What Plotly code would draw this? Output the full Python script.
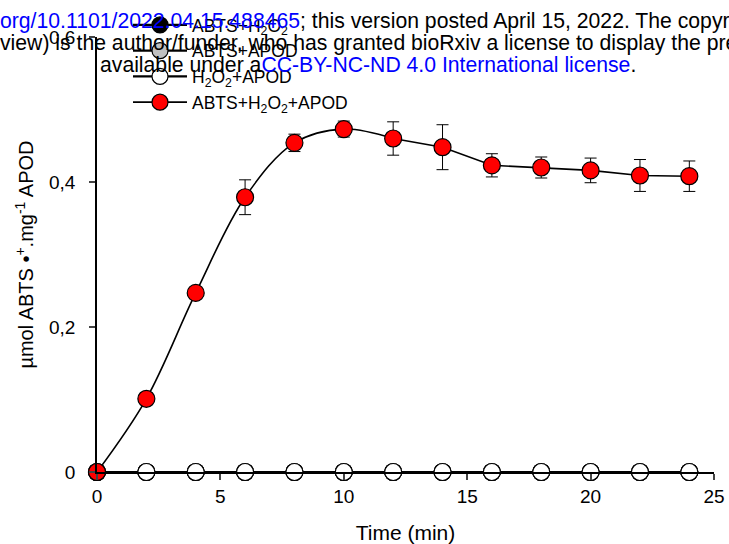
import plotly.graph_objects as go

# ---- data ----
time_min = [0, 2, 4, 6, 8, 10, 12, 14, 16, 18, 20, 22, 24]
abts_h2o2 = [0, 0, 0, 0, 0, 0, 0, 0, 0, 0, 0, 0, 0]
abts_apod = [0, 0, 0, 0, 0, 0, 0, 0, 0, 0, 0, 0, 0]
h2o2_apod = [0, 0, 0, 0, 0, 0, 0, 0, 0, 0, 0, 0, 0]
abts_h2o2_apod = [0, 0.101, 0.247, 0.379, 0.454, 0.473, 0.460, 0.448, 0.423, 0.420, 0.416, 0.409, 0.408]
abts_h2o2_apod_err = [0, 0.004, 0.004, 0.024, 0.012, 0.011, 0.023, 0.031, 0.016, 0.0145, 0.017, 0.022, 0.021]

x_ticks = [0, 5, 10, 15, 20, 25]
y_ticks = [0, 0.2, 0.4, 0.6]
y_ticklabels = ["0", "0,2", "0,4", "0,6"]

names = ["ABTS+H<sub>2</sub>O<sub>2</sub>", "ABTS+APOD",
         "H<sub>2</sub>O<sub>2</sub>+APOD", "ABTS+H<sub>2</sub>O<sub>2</sub>+APOD"]

FONT = "Liberation Sans, Arial, sans-serif"
W, H = 729, 544
ML, MR, MT, MB = 97, 15, 37, 72
PW = W - ML - MR
PH = H - MT - MB

fig = go.Figure()

zero_series = [(abts_h2o2, "black"), (abts_apod, "#c0c0c0"), (h2o2_apod, "white")]
for i, (vals, col) in enumerate(zero_series):
    fig.add_trace(go.Scatter(
        x=time_min, y=vals, name=names[i], mode="lines+markers",
        line=dict(color="black", width=2.2),
        marker=dict(size=17, color=col, line=dict(color="black", width=1.2)),
        cliponaxis=False,
    ))

split = 6  # index of t=12: smooth rise before, straight segments after
fig.add_trace(go.Scatter(
    x=time_min[:split + 1], y=abts_h2o2_apod[:split + 1], mode="lines",
    line=dict(color="black", width=1.6, shape="spline", smoothing=1),
    showlegend=False, hoverinfo="skip", cliponaxis=False,
))
fig.add_trace(go.Scatter(
    x=time_min[:split], y=abts_h2o2_apod[:split], mode="markers",
    marker=dict(size=17, color="red", line=dict(color="black", width=1.2)),
    error_y=dict(type="data", array=abts_h2o2_apod_err[:split], color="black",
                 thickness=1, width=6),
    showlegend=False, cliponaxis=False,
))
fig.add_trace(go.Scatter(
    x=time_min[split:], y=abts_h2o2_apod[split:], name=names[3], mode="lines+markers",
    line=dict(color="black", width=1.6),
    marker=dict(size=17, color="red", line=dict(color="black", width=1.2)),
    error_y=dict(type="data", array=abts_h2o2_apod_err[split:], color="black",
                 thickness=1, width=6),
    cliponaxis=False,
))

def px_x(p):
    return (p - ML) / PW

def px_y(p):
    return (H - MB - p) / PH

WM = 21.2  # watermark font size
annotations = [
    dict(text='<span style="color:#0000ff">org/10.1101/2022.04.15.488465</span>; this version posted April 15, 2022. The copyright holder for this preprint',
         x=px_x(0), y=px_y(28 - 7.4)),
    dict(text="view) is the author/funder, who has granted bioRxiv a license to display the preprint in perpetuity. It is made",
         x=px_x(0), y=px_y(50 - 7.4)),
    dict(text='available under a<span style="color:#0000ff">CC-BY-NC-ND 4.0 International license</span>.',
         x=px_x(100), y=px_y(72 - 7.4)),
]
for a in annotations:
    a.update(xref="paper", yref="paper", showarrow=False, xanchor="left",
             yanchor="middle", font=dict(family=FONT, size=WM, color="black"),
             borderpad=0, borderwidth=0)
fig.update_layout(annotations=annotations)

fig.update_layout(
    width=W, height=H,
    margin=dict(l=ML, r=MR, t=MT, b=MB, pad=0, autoexpand=False),
    paper_bgcolor="white", plot_bgcolor="white",
    font=dict(family=FONT, size=19, color="black"),
    showlegend=True,
    legend=dict(x=px_x(128), y=px_y(7), xanchor="left", yanchor="top",
                bgcolor="rgba(0,0,0,0)", font=dict(size=17.5),
                itemwidth=54, tracegroupgap=0),
    xaxis=dict(range=[0, 25], tickvals=x_ticks, ticks="outside", ticklen=6,
               tickwidth=1.5, showline=True, linewidth=1.5, linecolor="black",
               showgrid=False, zeroline=False, automargin=False,
               title=dict(text="Time (min)", font=dict(size=21), standoff=20)),
    yaxis=dict(range=[0, 0.6], tickvals=y_ticks, ticktext=y_ticklabels,
               ticks="outside", ticklen=6, tickwidth=1.5, showline=True,
               linewidth=1.5, linecolor="black", showgrid=False, zeroline=False,
               automargin=False, ticklabelstandoff=10,
               title=dict(text="µmol ABTS •<sup>+</sup>.mg<sup>-1</sup> APOD",
                          font=dict(size=20), standoff=10)),
)

fig.write_html("out.html")
